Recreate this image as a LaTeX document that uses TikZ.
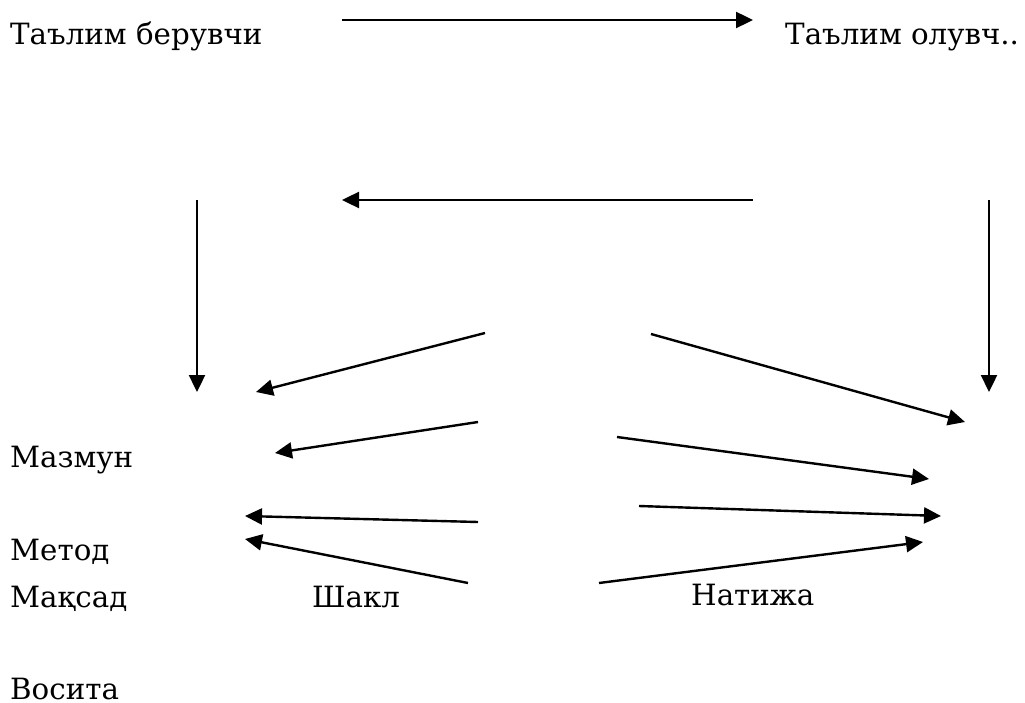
\documentclass[tikz,border=0pt]{standalone}
\usepackage{fontspec}
\setmainfont{DejaVu Serif}
\usetikzlibrary{arrows.meta}
\begin{document}
\begin{tikzpicture}[x=1pt,y=-1pt,
  lbl/.style={anchor=base west,inner sep=0pt,font=\fontsize{29.3}{35}\selectfont},
  arr/.style={line width=2.4pt,-{Triangle[length=17pt,width=16pt]}}]
\useasboundingbox (0,0) rectangle (1025,703);
% labels
\node[lbl] (giver) at (10,45) {Таълим берувчи};
\node[lbl] (taker) at (785,45) {Таълим олувч..};
\node[lbl] (content) at (10,467) {Мазмун};
\node[lbl] (method) at (10,560) {Метод};
\node[lbl] (goal) at (10,607) {Мақсад};
\node[lbl] (form) at (312,607) {Шакл};
\node[lbl] (result) at (691,605) {Натижа};
\node[lbl] (means) at (10,699) {Восита};
% arrow endpoints
\coordinate (a1s) at (342,20);  \coordinate (a1e) at (753,20);
\coordinate (a2s) at (753,200); \coordinate (a2e) at (342,200);
\coordinate (a3s) at (197,200); \coordinate (a3e) at (197,392);
\coordinate (a4s) at (989,200); \coordinate (a4e) at (989,392);
\coordinate (a5s) at (485,333); \coordinate (a5e) at (256,392);
\coordinate (a6s) at (651,334); \coordinate (a6e) at (965,422);
\coordinate (a7s) at (478,422); \coordinate (a7e) at (275,453);
\coordinate (a8s) at (617,437); \coordinate (a8e) at (929,479);
\coordinate (a9s) at (478,522); \coordinate (a9e) at (245,516);
\coordinate (a10s) at (639,506); \coordinate (a10e) at (941,516);
\coordinate (a11s) at (468,583); \coordinate (a11e) at (245,539);
\coordinate (a12s) at (599,583); \coordinate (a12e) at (923,542);
\foreach \i in {1,...,12} \draw[arr] (a\i s) -- (a\i e);
\end{tikzpicture}
\end{document}
